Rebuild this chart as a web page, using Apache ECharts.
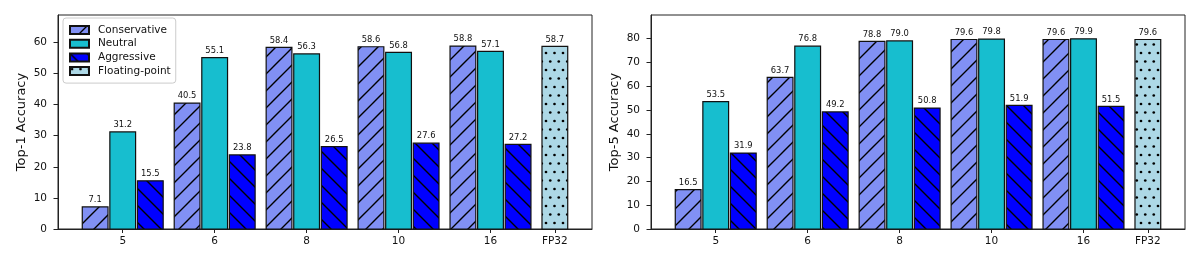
<!DOCTYPE html>
<html>
<head>
<meta charset="utf-8">
<script src="https://cdn.jsdelivr.net/npm/echarts@6/dist/echarts.min.js"></script>
<style>
html,body{margin:0;padding:0;background:#fff;}
#chart{width:1200px;height:265px;}
</style>
</head>
<body>
<div id="chart"></div>
<script>
// ---- data ----
const categories = ['5', '6', '8', '10', '16'];
const fpLabel = 'FP32';
const seriesNames = ['Conservative', 'Neutral', 'Aggressive', 'Floating-point'];
const top1Conservative = [7.1, 40.5, 58.4, 58.6, 58.8];
const top1Neutral = [31.2, 55.1, 56.3, 56.8, 57.1];
const top1Aggressive = [15.5, 23.8, 26.5, 27.6, 27.2];
const top1FP = [58.7];
const top5Conservative = [16.5, 63.7, 78.8, 79.6, 79.6];
const top5Neutral = [53.5, 76.8, 79.0, 79.8, 79.9];
const top5Aggressive = [31.9, 49.2, 50.8, 51.9, 51.5];
const top5FP = [79.6];
const yTicksTop1 = [0, 10, 20, 30, 40, 50, 60];
const yTicksTop5 = [0, 10, 20, 30, 40, 50, 60, 70, 80];

// ---- layout params ----
const BAR_W = 0.28, OFFSET = 0.3, FP_POS = categories.length - 1 + 0.7;
const XMIN = -0.704, XMAX = 5.104;
const FONT = '"DejaVu Sans", "Liberation Sans", sans-serif';
const tickPositions = categories.map((c, i) => i).concat([FP_POS]);
const tickLabels = categories.concat([fpLabel]);

function makePattern(bg, type) {
  const s = 17;
  const c = document.createElement('canvas');
  c.width = s; c.height = s;
  const ctx = c.getContext('2d');
  ctx.fillStyle = bg; ctx.fillRect(0, 0, s, s);
  ctx.strokeStyle = '#000'; ctx.fillStyle = '#000'; ctx.lineWidth = 1.4;
  if (type === '/') {
    ctx.beginPath();
    ctx.moveTo(-1, s + 1); ctx.lineTo(s + 1, -1);
    ctx.moveTo(-1, 1); ctx.lineTo(1, -1);
    ctx.moveTo(s - 1, s + 1); ctx.lineTo(s + 1, s - 1);
    ctx.stroke();
  } else if (type === '\\') {
    ctx.beginPath();
    ctx.moveTo(-1, -1); ctx.lineTo(s + 1, s + 1);
    ctx.moveTo(s - 1, -1); ctx.lineTo(s + 1, 1);
    ctx.moveTo(-1, s - 1); ctx.lineTo(1, s + 1);
    ctx.stroke();
  } else if (type === '.') {
    const pts = [[2, 2], [10.5, 2], [6.25, 10.5], [14.75, 10.5]];
    pts.forEach(p => { ctx.beginPath(); ctx.arc(p[0], p[1], 1.35, 0, Math.PI * 2); ctx.fill(); });
  }
  return { image: c, repeat: 'repeat' };
}

const fills = [
  makePattern('#8190f4', '/'),
  '#17becf',
  makePattern('#0000ff', '\\'),
  makePattern('#add8e6', '.')
];

function renderBar(params, api) {
  const x = api.value(0), v = api.value(1);
  const p0 = api.coord([x - BAR_W / 2, v]);
  const p1 = api.coord([x + BAR_W / 2, 0]);
  const style = api.style();
  return {
    type: 'group',
    children: [
      { type: 'rect', shape: { x: p0[0], y: p0[1], width: p1[0] - p0[0], height: p1[1] - p0[1] },
        style: { fill: style.fill, stroke: '#111', lineWidth: 1.2 } },
      { type: 'text', style: { text: v.toFixed(1), x: (p0[0] + p1[0]) / 2, y: p0[1] - 3,
        align: 'center', verticalAlign: 'bottom', font: '8.4px ' + FONT, fill: '#111' } }
    ]
  };
}

function buildSeries(idx, cons, neu, agg, fp) {
  const sets = [
    cons.map((v, i) => [i - OFFSET, v]),
    neu.map((v, i) => [i, v]),
    agg.map((v, i) => [i + OFFSET, v]),
    fp.map(v => [FP_POS, v])
  ];
  return sets.map((d, k) => ({
    type: 'custom', name: seriesNames[k], xAxisIndex: idx, yAxisIndex: idx,
    renderItem: renderBar, data: d, encode: { x: 0, y: 1 },
    itemStyle: { color: fills[k], borderColor: '#111', borderWidth: 1 },
    silent: true
  }));
}

function xAxis(idx) {
  return {
    type: 'value', gridIndex: idx, min: XMIN, max: XMAX,
    splitLine: { show: false },
    axisLine: { show: true, onZero: false, lineStyle: { color: '#222', width: 1 } },
    axisTick: { show: true, length: 4, customValues: tickPositions, lineStyle: { color: '#222' } },
    axisLabel: {
      customValues: tickPositions, margin: 7, color: '#111', fontSize: 10.5, fontFamily: FONT,
      formatter: v => { const i = tickPositions.findIndex(p => Math.abs(p - v) < 1e-6); return i >= 0 ? tickLabels[i] : ''; }
    }
  };
}
function yAxis(idx, max, ticks, name) {
  return {
    type: 'value', gridIndex: idx, min: 0, max: max,
    name: name, nameLocation: 'middle', nameGap: 30,
    nameTextStyle: { fontSize: 13, fontFamily: FONT, color: '#111' },
    splitLine: { show: false },
    axisLine: { show: true, onZero: false, lineStyle: { color: '#222', width: 1 } },
    axisTick: { show: true, length: 4.5, customValues: ticks, lineStyle: { color: '#222' } },
    axisLabel: { customValues: ticks, margin: 11, color: '#111', fontSize: 10.5, fontFamily: FONT }
  };
}

const chart = echarts.init(document.getElementById('chart'), null, { renderer: 'canvas' });
chart.setOption({
  animation: false,
  backgroundColor: '#fff',
  grid: [
    { left: 58, right: 608, top: 15, bottom: 36, show: true, borderColor: '#222', borderWidth: 1, backgroundColor: 'transparent' },
    { left: 651, right: 15, top: 15, bottom: 36, show: true, borderColor: '#222', borderWidth: 1, backgroundColor: 'transparent' }
  ],
  legend: {
    data: seriesNames, orient: 'vertical', left: 63, top: 18,
    padding: [6, 5, 6, 6], itemGap: 1.7, itemWidth: 19, itemHeight: 8, icon: 'rect',
    backgroundColor: 'rgba(255,255,255,0.85)', borderColor: '#ccc', borderWidth: 1, borderRadius: 3,
    textStyle: { fontSize: 10.5, fontFamily: FONT, color: '#111', lineHeight: 12, padding: [0, 0, 0, 4] },
    selectedMode: false
  },
  xAxis: [xAxis(0), xAxis(1)],
  yAxis: [yAxis(0, 68.8, yTicksTop1, 'Top-1 Accuracy'), yAxis(1, 89.9, yTicksTop5, 'Top-5 Accuracy')],
  series: buildSeries(0, top1Conservative, top1Neutral, top1Aggressive, top1FP)
    .concat(buildSeries(1, top5Conservative, top5Neutral, top5Aggressive, top5FP))
});
</script>
</body>
</html>
